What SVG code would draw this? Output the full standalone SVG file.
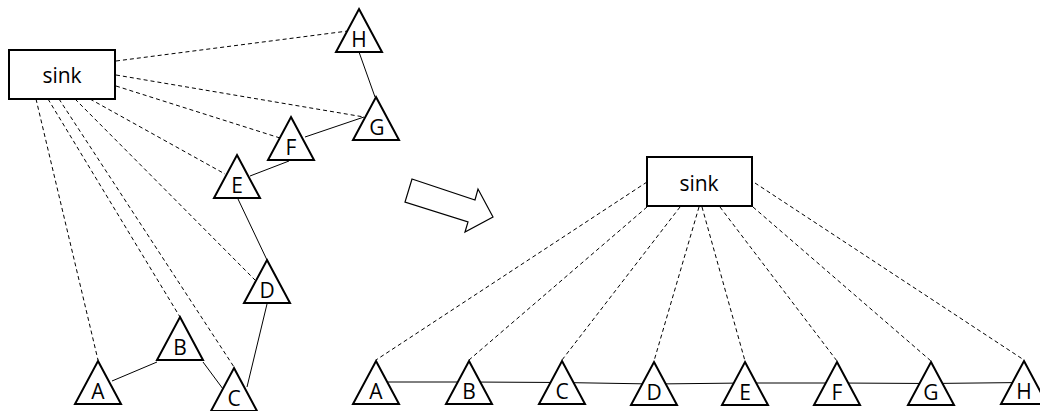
<svg xmlns="http://www.w3.org/2000/svg" xmlns:xlink="http://www.w3.org/1999/xlink" width="1040" height="411" viewBox="0 0 1040 411">
  <style>
    .box { fill: #fff; stroke: #000; stroke-width: 2; }
    .tri { fill: #fff; stroke: #000; stroke-width: 2; stroke-linejoin: miter; }
    .link { fill: none; stroke: #000; stroke-width: 1; }
    .dash { fill: none; stroke: #000; stroke-width: 1; stroke-dasharray: 4 3; }
    .arrow { fill: #fff; stroke: #000; stroke-width: 1.2; stroke-linejoin: miter; }
    .lbl { font-family: "Open Sans", "Liberation Sans", sans-serif; font-size: 21px; fill: #000; text-anchor: middle; }
  </style>
  <defs>
    <!-- sensor node: triangle with its apex at the origin -->
    <path id="tri" d="M0,0 L23,43 L-23,43 Z"/>
  </defs>
  <rect width="1040" height="411" fill="#fff"/>

  <!-- connectors -->
  <g id="connectors">
    <!-- left: chain topology, dashed links to the sink -->
    <line class="dash" x1="116" y1="61" x2="348" y2="31"/>
    <line class="dash" x1="116" y1="75" x2="364" y2="117"/>
    <line class="dash" x1="116" y1="86" x2="280" y2="138"/>
    <line class="dash" x1="90" y1="99" x2="225" y2="174"/>
    <line class="dash" x1="75" y1="99" x2="255" y2="280"/>
    <line class="dash" x1="59" y1="99" x2="234" y2="367"/>
    <line class="dash" x1="48" y1="99" x2="180" y2="317"/>
    <line class="dash" x1="36" y1="99" x2="98" y2="360"/>
    <line class="link" x1="359" y1="52" x2="375" y2="97"/>
    <line class="link" x1="364" y1="117" x2="305" y2="137"/>
    <line class="link" x1="289" y1="161" x2="250" y2="176"/>
    <line class="link" x1="238" y1="199" x2="267" y2="260"/>
    <line class="link" x1="267" y1="304" x2="247" y2="387"/>
    <line class="link" x1="223" y1="389" x2="203" y2="362"/>
    <line class="link" x1="157" y1="362" x2="112" y2="381"/>

    <!-- right: every node reports directly to the sink -->
    <line class="dash" x1="647" y1="182" x2="376" y2="360"/>
    <line class="dash" x1="647" y1="207" x2="469" y2="360"/>
    <line class="dash" x1="680" y1="207" x2="562" y2="360"/>
    <line class="dash" x1="699" y1="207" x2="654" y2="361"/>
    <line class="dash" x1="702" y1="207" x2="745" y2="361"/>
    <line class="dash" x1="720" y1="207" x2="837" y2="361"/>
    <line class="dash" x1="753" y1="207" x2="931" y2="361"/>
    <line class="dash" x1="755" y1="183" x2="1024" y2="360"/>
    <polyline class="link" points="376,382 469,382 562,382.5 654,384 745,383 837,383 931,383.5 1024,382.5"/>
  </g>

  <!-- transformation arrow -->
  <g id="transform-arrow">
    <polygon class="arrow" points="412,179 475,200 478,189 493,217 465,232 468,222 405,202"/>
  </g>

  <!-- left panel nodes -->
  <g id="sink-left">
    <rect class="box" x="9" y="50" width="106" height="49"/>
    <text class="lbl" x="62" y="83">sink</text>
  </g>
  <g id="left-H"><use xlink:href="#tri" class="tri" x="359" y="9"/><text class="lbl" x="359" y="47">H</text></g>
  <g id="left-G"><use xlink:href="#tri" class="tri" x="376" y="97"/><text class="lbl" x="377" y="135">G</text></g>
  <g id="left-F"><use xlink:href="#tri" class="tri" x="291" y="117"/><text class="lbl" x="291" y="155">F</text></g>
  <g id="left-E"><use xlink:href="#tri" class="tri" x="237" y="155"/><text class="lbl" x="237" y="193">E</text></g>
  <g id="left-D"><use xlink:href="#tri" class="tri" x="267" y="260"/><text class="lbl" x="267" y="298">D</text></g>
  <g id="left-B"><use xlink:href="#tri" class="tri" x="180" y="317"/><text class="lbl" x="180" y="355">B</text></g>
  <g id="left-A"><use xlink:href="#tri" class="tri" x="98" y="361"/><text class="lbl" x="98" y="399">A</text></g>
  <g id="left-C"><use xlink:href="#tri" class="tri" x="234" y="368"/><text class="lbl" x="234" y="406">C</text></g>

  <!-- right panel nodes -->
  <g id="sink-right">
    <rect class="box" x="647" y="157" width="105" height="49"/>
    <text class="lbl" x="699" y="191">sink</text>
  </g>
  <g id="right-A"><use xlink:href="#tri" class="tri" x="376" y="361"/><text class="lbl" x="376" y="399">A</text></g>
  <g id="right-B"><use xlink:href="#tri" class="tri" x="469" y="361"/><text class="lbl" x="469" y="399">B</text></g>
  <g id="right-C"><use xlink:href="#tri" class="tri" x="562" y="361"/><text class="lbl" x="562" y="399">C</text></g>
  <g id="right-D"><use xlink:href="#tri" class="tri" x="654" y="362"/><text class="lbl" x="654" y="400">D</text></g>
  <g id="right-E"><use xlink:href="#tri" class="tri" x="745" y="362"/><text class="lbl" x="745" y="400">E</text></g>
  <g id="right-F"><use xlink:href="#tri" class="tri" x="837" y="362"/><text class="lbl" x="837" y="400">F</text></g>
  <g id="right-G"><use xlink:href="#tri" class="tri" x="931" y="362"/><text class="lbl" x="931" y="400">G</text></g>
  <g id="right-H"><use xlink:href="#tri" class="tri" x="1024" y="361"/><text class="lbl" x="1024" y="399">H</text></g>
</svg>
